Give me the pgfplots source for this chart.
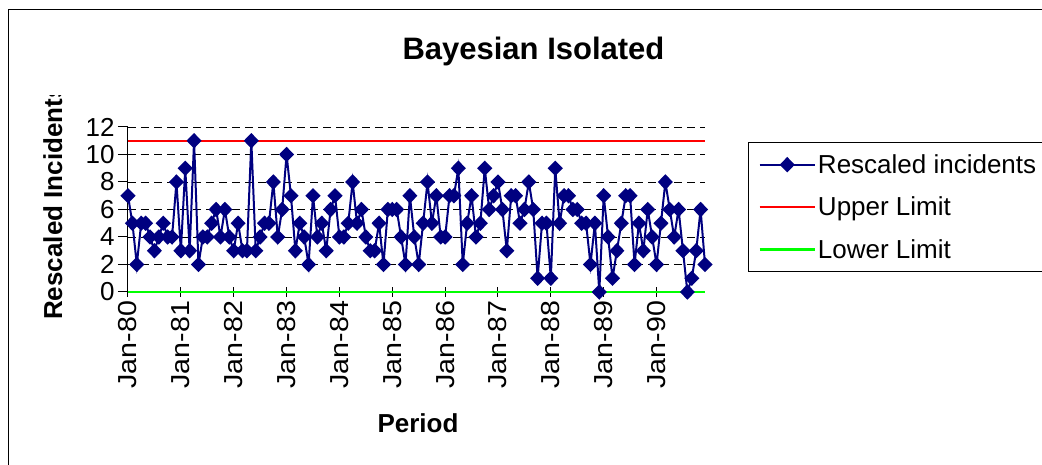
\documentclass[border=0pt]{standalone}
\usepackage{fontspec}
\setmainfont{Liberation Sans}
\usepackage{pgfplots}
\usepackage{pgfplotstable}
\pgfplotsset{compat=1.18}
\definecolor{navy}{RGB}{0,0,128}
\definecolor{limgreen}{RGB}{0,255,0}
\definecolor{limred}{RGB}{255,0,0}

\pgfplotstableread{
m v
0 7
1 5
2 2
3 5
4 5
5 4
6 3
7 4
8 5
9 4
10 4
11 8
12 3
13 9
14 3
15 11
16 2
17 4
18 4
19 5
20 6
21 4
22 6
23 4
24 3
25 5
26 3
27 3
28 11
29 3
30 4
31 5
32 5
33 8
34 4
35 6
36 10
37 7
38 3
39 5
40 4
41 2
42 7
43 4
44 5
45 3
46 6
47 7
48 4
49 4
50 5
51 8
52 5
53 6
54 4
55 3
56 3
57 5
58 2
59 6
60 6
61 6
62 4
63 2
64 7
65 4
66 2
67 5
68 8
69 5
70 7
71 4
72 4
73 7
74 7
75 9
76 2
77 5
78 7
79 4
80 5
81 9
82 6
83 7
84 8
85 6
86 3
87 7
88 7
89 5
90 6
91 8
92 6
93 1
94 5
95 5
96 1
97 9
98 5
99 7
100 7
101 6
102 6
103 5
104 5
105 2
106 5
107 0
108 7
109 4
110 1
111 3
112 5
113 7
114 7
115 2
116 5
117 3
118 6
119 4
120 2
121 5
122 8
123 6
124 4
125 6
126 3
127 0
128 1
129 3
130 6
131 2
}\incidents

\begin{document}
\begin{tikzpicture}[x=1pt,y=1pt]
\useasboundingbox (0,0) rectangle (1042,465);
\draw[line width=1.5pt] (8.5,-10) -- (8.5,455.5) -- (1080,455.5);
\node[font=\bfseries\fontsize{31}{37}\selectfont, anchor=base] at (533.5,405) {Bayesian Isolated};
\begin{scope}
\clip (20,130) rectangle (90,369);
\node[font=\bfseries\fontsize{26}{31}\selectfont, rotate=90, anchor=base west, inner sep=0pt] at (62,145) {Rescaled Incidents};
\end{scope}
\node[font=\bfseries\fontsize{26}{31}\selectfont, anchor=base, inner sep=0pt] at (418,32) {Period};
\begin{axis}[
  at={(128pt,173pt)}, anchor=south west,
  scale only axis, width=577pt, height=165pt,
  xmin=0, xmax=131, ymin=0, ymax=12,
  axis lines=left, axis line style={-, line width=1pt, black},
  ytick={0,2,...,12},
  xtick={0,12,...,120},
  xticklabels={Jan-80,Jan-81,Jan-82,Jan-83,Jan-84,Jan-85,Jan-86,Jan-87,Jan-88,Jan-89,Jan-90},
  xticklabel style={rotate=90, anchor=east, xscale=1.1},
  ymajorgrids,
  grid style={black, line width=0.8pt, dash pattern=on 8pt off 5pt},
  tick style={black, line width=1pt},
  major tick length=10pt,
  xtick align=center, ytick align=outside,
  tick label style={font=\fontsize{26}{31}\selectfont},
  /pgf/number format/assume math mode=true,
  clip=false,
  legend style={at={(1.0745,0.909)}, anchor=north west, draw=black, line width=1pt,
    fill=white, font=\fontsize{26}{31}\selectfont, row sep=18pt, inner ysep=10pt, inner xsep=10pt},
  legend cell align=left,
  legend image code/.code={\draw[mark repeat=2,mark phase=2,#1] plot coordinates {(0pt,0pt) (27.5pt,0pt) (55pt,0pt)};},
]
\addplot[limred, line width=2pt, forget plot] coordinates {(0,11) (131,11)};
\addplot[limgreen, line width=2.5pt, forget plot] coordinates {(0,0) (131,0)};
\addplot[navy, line width=2pt, mark=diamond*, mark size=6.3pt,
  mark options={solid, fill=navy, draw=navy, xscale=1.3}] table[x=m, y=v] {\incidents};
\addlegendentry{Rescaled incidents}
\addlegendimage{limred, line width=2pt}
\addlegendentry{Upper Limit}
\addlegendimage{limgreen, line width=2.5pt}
\addlegendentry{Lower Limit}
\end{axis}
\end{tikzpicture}
\end{document}
